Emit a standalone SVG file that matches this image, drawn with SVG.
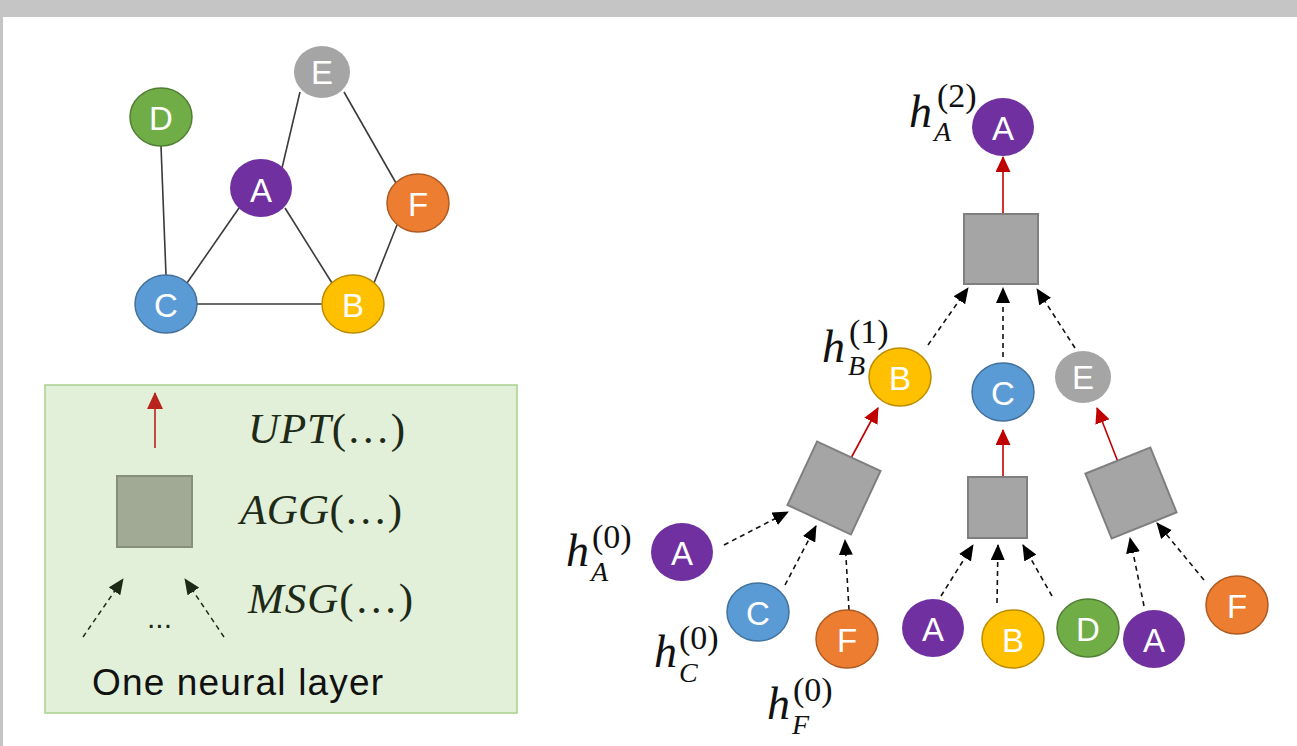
<svg xmlns="http://www.w3.org/2000/svg" width="1297" height="746" viewBox="0 0 1297 746">
<style>
.bg{fill:#ffffff}
.frame{fill:#c4c5c4}
.edge{stroke:#3a3a3a;stroke-width:1.6;fill:none}
.msg{stroke:#111;stroke-width:1.6;stroke-dasharray:5,4;fill:none;marker-end:url(#ab)}
.upt{stroke:#c00000;stroke-width:1.6;fill:none;marker-end:url(#ar)}
.lbl{font-family:"Liberation Sans",Arial,sans-serif;font-size:33px;fill:#fff;text-anchor:middle}
.agg{fill:#a5a5a5;stroke:#7f7f7f;stroke-width:2}
.h{font-family:"Liberation Serif","DejaVu Serif",serif;font-style:italic;fill:#111}
.hm{font-size:46px}
.hs{font-size:34px;font-style:normal}
.hb{font-size:28px}
.math{font-family:"Liberation Serif","DejaVu Serif",serif;font-style:italic;font-size:43px;fill:#1e2a18}
.up{font-style:normal}
.pu{fill:#7030a0}
.ye{fill:#ffc000;stroke:#bc8c00;stroke-width:1.5}
.bl{fill:#5b9bd5;stroke:#41719c;stroke-width:1.5}
.gr{fill:#70ad47;stroke:#507e32;stroke-width:1.5}
.or{fill:#ed7d31;stroke:#ae5a21;stroke-width:1.5}
.gy{fill:#a5a5a5}
</style>
<defs>
<marker id="ab" markerUnits="userSpaceOnUse" viewBox="0 0 16 14" markerWidth="16" markerHeight="14" refX="15" refY="7" orient="auto"><path d="M0,0 L16,7 L0,14 z" fill="#000"/></marker>
<marker id="ar" markerUnits="userSpaceOnUse" viewBox="0 0 16 15" markerWidth="16" markerHeight="15" refX="15" refY="7.5" orient="auto"><path d="M0,0 L16,7.5 L0,15 z" fill="#c00000"/></marker>
<marker id="alr" markerUnits="userSpaceOnUse" viewBox="0 0 17 16" markerWidth="17" markerHeight="16" refX="16" refY="8" orient="auto"><path d="M0,0 L17,8 L0,16 z" fill="#b8231c"/></marker>
<marker id="alb" markerUnits="userSpaceOnUse" viewBox="0 0 16 14" markerWidth="16" markerHeight="14" refX="15" refY="7" orient="auto"><path d="M0,0 L16,7 L0,14 z" fill="#1e2a18"/></marker>
</defs>
<rect class="frame" x="0" y="0" width="1297" height="746"/>
<rect class="bg" x="3" y="17" width="1294" height="729"/>

<!-- connectors -->
<g id="connectors">
  <line class="edge" x1="161" y1="146" x2="166" y2="275"/>
  <line class="edge" x1="300" y1="92" x2="282" y2="168"/>
  <line class="edge" x1="344" y1="92" x2="396" y2="183"/>
  <line class="edge" x1="239" y1="208" x2="187" y2="283"/>
  <line class="edge" x1="285" y1="208" x2="332" y2="283"/>
  <line class="edge" x1="397" y1="225" x2="374" y2="283"/>
  <line class="edge" x1="197" y1="304" x2="322" y2="304"/>

  <line class="upt" x1="1003" y1="214" x2="1003" y2="157"/>
  <line class="msg" x1="928" y1="345" x2="968" y2="288"/>
  <line class="msg" x1="1003" y1="357" x2="1003" y2="288"/>
  <line class="msg" x1="1075" y1="348" x2="1037" y2="289"/>

  <line class="upt" x1="850" y1="460" x2="878" y2="408"/>
  <line class="upt" x1="1003" y1="478" x2="1003" y2="430"/>
  <line class="upt" x1="1118" y1="462" x2="1097" y2="408"/>

  <line class="msg" x1="724" y1="545" x2="788" y2="512"/>
  <line class="msg" x1="785" y1="585" x2="816" y2="526"/>
  <line class="msg" x1="849" y1="610" x2="845" y2="540"/>

  <line class="msg" x1="941" y1="596" x2="973" y2="545"/>
  <line class="msg" x1="997" y1="603" x2="998" y2="545"/>
  <line class="msg" x1="1052" y1="596" x2="1023" y2="545"/>
  <line class="msg" x1="1144" y1="606" x2="1130" y2="538"/>
  <line class="msg" x1="1204" y1="580" x2="1157" y2="523"/>
</g>

<!-- input graph -->
<g id="g-E"><ellipse class="gy" cx="322" cy="72" rx="28" ry="26"/><text class="lbl" x="322" y="84">E</text></g>
<g id="g-D"><ellipse class="gr" cx="161" cy="117" rx="31" ry="29"/><text class="lbl" x="161" y="130">D</text></g>
<g id="g-A"><ellipse class="pu" cx="261" cy="188" rx="31" ry="29"/><text class="lbl" x="261" y="202">A</text></g>
<g id="g-F"><ellipse class="or" cx="418" cy="203" rx="31" ry="29"/><text class="lbl" x="418" y="216">F</text></g>
<g id="g-C"><ellipse class="bl" cx="166" cy="304" rx="31" ry="29"/><text class="lbl" x="166" y="317">C</text></g>
<g id="g-B"><ellipse class="ye" cx="353" cy="304" rx="31" ry="29"/><text class="lbl" x="353" y="317">B</text></g>

<!-- legend -->
<g id="legend">
  <rect x="45" y="385" width="472" height="328" fill="#e2f0d9" stroke="#a9d18e" stroke-width="1.5"/>
  <line x1="155" y1="448" x2="155" y2="393" stroke="#b8231c" stroke-width="1.6" marker-end="url(#alr)"/>
  <rect x="117" y="476" width="75" height="71" fill="#a0aa95" stroke="#858f7c" stroke-width="2"/>
  <line x1="83" y1="637" x2="123" y2="579" stroke="#1e2a18" stroke-width="1.5" stroke-dasharray="5,4" marker-end="url(#alb)"/>
  <line x1="224" y1="637" x2="185" y2="579" stroke="#1e2a18" stroke-width="1.5" stroke-dasharray="5,4" marker-end="url(#alb)"/>
  <text x="147" y="628" font-family="Liberation Sans,Arial,sans-serif" font-size="30" fill="#1e2a18" textLength="25" lengthAdjust="spacing">...</text>
  <text class="math" x="248" y="443" textLength="157" lengthAdjust="spacing">UPT<tspan class="up">(…)</tspan></text>
  <text class="math" x="240" y="524" textLength="162" lengthAdjust="spacing">AGG<tspan class="up">(…)</tspan></text>
  <text class="math" x="248" y="613" textLength="165" lengthAdjust="spacing">MSG<tspan class="up">(…)</tspan></text>
  <text x="92" y="695" font-family="Liberation Sans,Arial,sans-serif" font-size="37" fill="#111" textLength="291" lengthAdjust="spacing">One neural layer</text>
</g>

<!-- computation tree -->
<g id="t-A2"><ellipse class="pu" cx="1003" cy="127" rx="31" ry="29"/><text class="lbl" x="1003" y="140">A</text></g>
<g id="lab-hA2" class="h"><text class="hm" x="909" y="127">h</text><text class="hs" x="937" y="107">(2)</text><text class="hb" x="934" y="141">A</text></g>
<g id="t-agg2"><rect class="agg" x="964" y="214" width="74" height="70"/></g>

<g id="t-B1"><ellipse class="ye" cx="900" cy="377" rx="31" ry="29"/><text class="lbl" x="900" y="390">B</text></g>
<g id="lab-hB1" class="h"><text class="hm" x="822" y="362">h</text><text class="hs" x="849" y="343">(1)</text><text class="hb" x="848" y="375">B</text></g>
<g id="t-C1"><ellipse class="bl" cx="1003" cy="392" rx="31" ry="29"/><text class="lbl" x="1003" y="405">C</text></g>
<g id="t-E1"><ellipse class="gy" cx="1083" cy="377" rx="28" ry="26"/><text class="lbl" x="1083" y="389">E</text></g>

<g id="t-aggB"><rect class="agg" x="-35" y="-35" width="70" height="70" transform="translate(834,488) rotate(25)"/></g>
<g id="t-aggC"><rect class="agg" x="968" y="477" width="59" height="61"/></g>
<g id="t-aggE"><rect class="agg" x="-35" y="-35" width="70" height="70" transform="translate(1131,493) rotate(-22)"/></g>

<g id="t-A0"><ellipse class="pu" cx="682" cy="552" rx="31" ry="29"/><text class="lbl" x="682" y="565">A</text></g>
<g id="lab-hA0" class="h"><text class="hm" x="566" y="566">h</text><text class="hs" x="592" y="548">(0)</text><text class="hb" x="591" y="581">A</text></g>
<g id="t-C0"><ellipse class="bl" cx="758" cy="612" rx="31" ry="29"/><text class="lbl" x="758" y="625">C</text></g>
<g id="lab-hC0" class="h"><text class="hm" x="654" y="667">h</text><text class="hs" x="679" y="649">(0)</text><text class="hb" x="679" y="682">C</text></g>
<g id="t-F0"><ellipse class="or" cx="847" cy="639" rx="31" ry="29"/><text class="lbl" x="847" y="652">F</text></g>
<g id="lab-hF0" class="h"><text class="hm" x="767" y="719">h</text><text class="hs" x="793" y="701">(0)</text><text class="hb" x="792" y="734">F</text></g>

<g id="t-A3"><ellipse class="pu" cx="933" cy="628" rx="31" ry="29"/><text class="lbl" x="933" y="641">A</text></g>
<g id="t-B3"><ellipse class="ye" cx="1013" cy="639" rx="31" ry="29"/><text class="lbl" x="1013" y="652">B</text></g>
<g id="t-D3"><ellipse class="gr" cx="1088" cy="628" rx="31" ry="29"/><text class="lbl" x="1088" y="641">D</text></g>
<g id="t-A4"><ellipse class="pu" cx="1154" cy="639" rx="31" ry="29"/><text class="lbl" x="1154" y="652">A</text></g>
<g id="t-F4"><ellipse class="or" cx="1237" cy="605" rx="31" ry="29"/><text class="lbl" x="1237" y="618">F</text></g>
</svg>
